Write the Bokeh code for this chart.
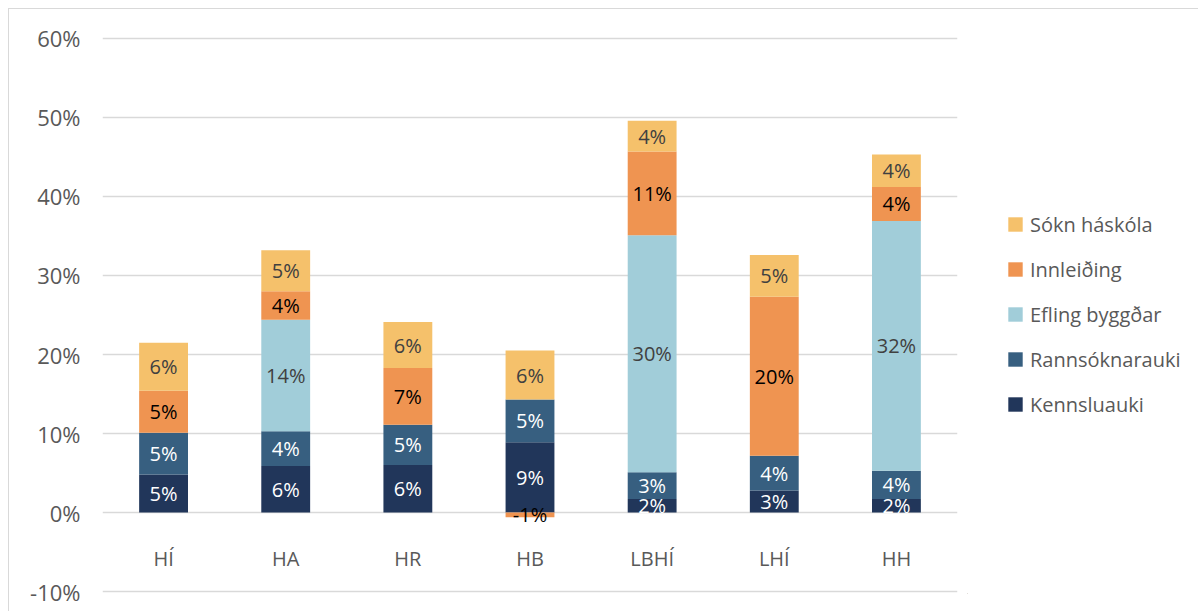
from bokeh.plotting import figure
from bokeh.layouts import row
from bokeh.models import (ColumnDataSource, FactorRange, Range1d, FixedTicker,
                          PrintfTickFormatter, Legend, LegendItem)
from bokeh.core.properties import value
from bokeh.embed import file_html
from bokeh.resources import INLINE
import numpy as np

# ---------------- data ----------------
categories = ["HÍ", "HA", "HR", "HB", "LBHÍ", "LHÍ", "HH"]
series_names = ["Kennsluauki", "Rannsóknarauki", "Efling byggðar", "Innleiðing", "Sókn háskóla"]
kennsluauki = [4.8, 5.9, 6.0, 8.9, 1.7, 2.8, 1.7]
rannsoknarauki = [5.3, 4.4, 5.1, 5.4, 3.4, 4.4, 3.6]
efling_byggdar = [0.0, 14.1, 0.0, 0.0, 30.0, 0.0, 31.6]
innleiding = [5.3, 3.6, 7.2, -0.6, 10.6, 20.1, 4.3]
sokn_haskola = [6.1, 5.2, 5.8, 6.2, 3.9, 5.3, 4.1]
y_ticks = [-10, 0, 10, 20, 30, 40, 50, 60]

series_values = [kennsluauki, rannsoknarauki, efling_byggdar, innleiding, sokn_haskola]
bar_colors = ["#21365A", "#375F80", "#A1CDD9", "#EF9451", "#F5C16B"]
label_colors = ["#FFFFFF", "#FFFFFF", "#404040", "#000000", "#404040"]

FONT = value("Open Sans")
GREY_TEXT = "#595959"
GRID = "#D9D9D9"

p = figure(x_range=FactorRange(*categories, range_padding=0),
           y_range=Range1d(-10.25, 60.25),
           width=958, height=602,
           output_backend="svg", toolbar_location=None,
           min_border_left=93, min_border_right=10,
           min_border_top=27, min_border_bottom=18,
           outline_line_color=None)

p.xaxis.visible = False
p.xgrid.grid_line_color = None
p.ygrid.grid_line_color = GRID
p.ygrid.grid_line_width = 1.3

yax = p.yaxis[0]
yax.ticker = FixedTicker(ticks=y_ticks)
yax.formatter = PrintfTickFormatter(format="%d%%")
yax.axis_line_color = None
yax.major_tick_line_color = None
yax.minor_tick_line_color = None
yax.major_label_standoff = 16
yax.major_label_text_font = "Open Sans"
yax.major_label_text_font_size = "22px"
yax.major_label_text_color = GREY_TEXT
p.ygrid.ticker = FixedTicker(ticks=y_ticks)

pos_base = np.zeros(len(categories))
neg_base = np.zeros(len(categories))
for name, vals, col, lcol in zip(series_names, series_values, bar_colors, label_colors):
    v = np.array(vals, dtype=float)
    bottom = np.where(v >= 0, pos_base, neg_base + v)
    top = np.where(v >= 0, pos_base + v, neg_base)
    pos_base = np.where(v >= 0, pos_base + v, pos_base)
    neg_base = np.where(v < 0, neg_base + v, neg_base)
    src = ColumnDataSource(dict(x=categories, bottom=bottom, top=top))
    p.vbar(x="x", bottom="bottom", top="top", width=0.4, source=src,
           fill_color=col, line_color=None)
    mask = v != 0
    lab = ColumnDataSource(dict(
        x=[c for c, m in zip(categories, mask) if m],
        y=((bottom + top) / 2)[mask],
        t=[f"{int(round(x))}%" for x, m in zip(v, mask) if m]))
    p.text(x="x", y="y", text="t", source=lab, text_font=FONT,
           text_font_size="20px", text_color=lcol,
           text_align="center", text_baseline="middle")

# category labels
p.text(x=categories, y=[-5.8] * len(categories), text=categories,
       text_font=FONT, text_font_size="20px", text_color=GREY_TEXT,
       text_align="center", text_baseline="middle")

# ---------------- legend panel ----------------
lg = figure(x_range=Range1d(0, 1), y_range=Range1d(0, 1),
            width=231, height=602, output_backend="svg", toolbar_location=None,
            min_border=0, outline_line_color=None)
lg.axis.visible = False
lg.grid.visible = False
items = []
for name, col in zip(series_names, bar_colors):
    # legend proxy glyph, kept outside the visible range of this panel
    r = lg.vbar(x=[-10], bottom=[-10], top=[-9], width=0.1,
                fill_color=col, line_color=None)
    items.append(LegendItem(label=name, renderers=[r]))
items.reverse()
legend = Legend(items=items, location=(39, 174),
                glyph_width=18, glyph_height=18, label_height=30,
                spacing=15, padding=0, margin=0, label_standoff=6,
                label_text_font="Open Sans", label_text_font_size="20px",
                label_text_color=GREY_TEXT, border_line_color=None,
                background_fill_alpha=0)
lg.add_layout(legend, "center")

layout = row(p, lg, spacing=0)
layout.styles = {"margin-left": "8px", "margin-top": "8px",
                 "border-top": "1px solid #D9D9D9", "border-left": "1px solid #D9D9D9"}

open("out.html", "w").write(file_html(layout, INLINE))
